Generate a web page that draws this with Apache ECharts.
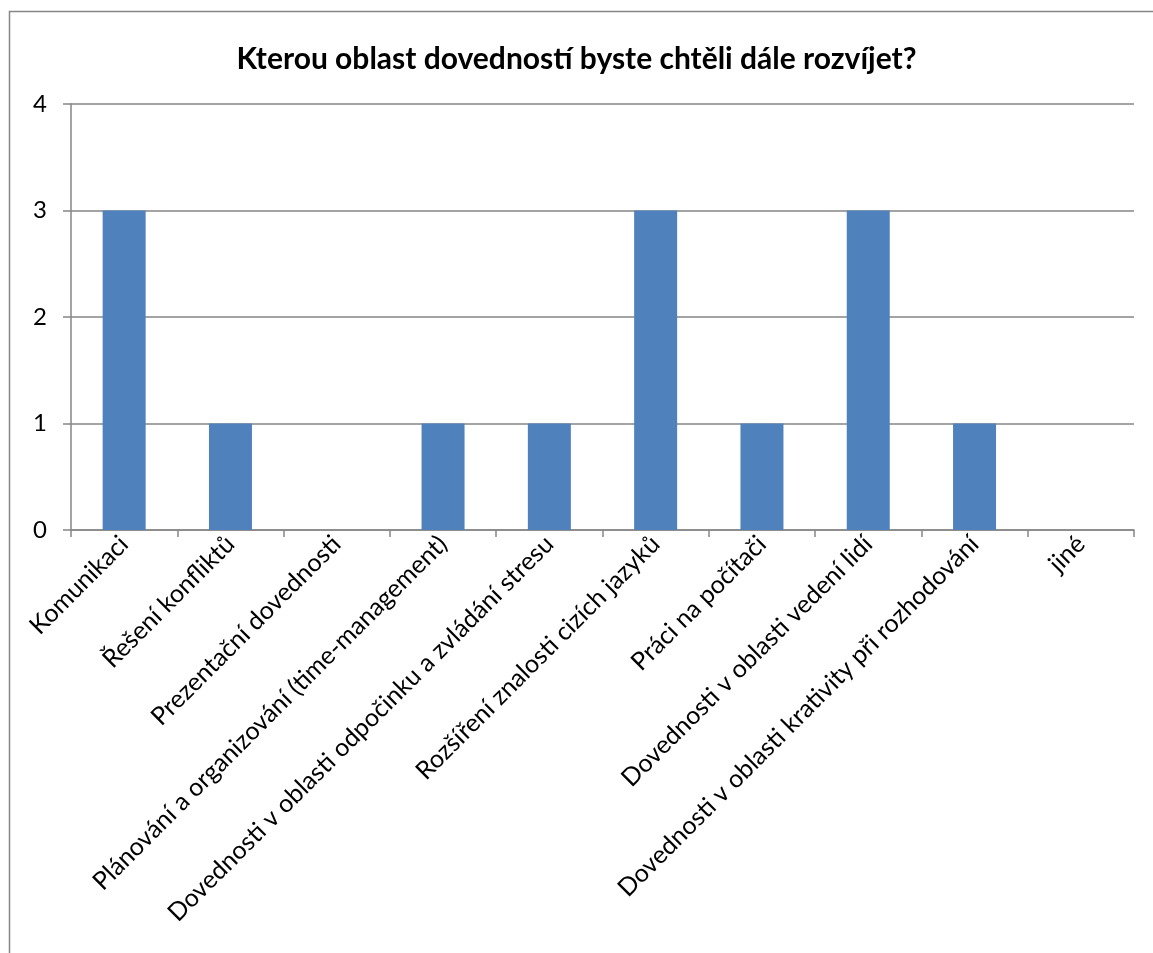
<!DOCTYPE html>
<html><head><meta charset="utf-8">
<script src="https://cdn.jsdelivr.net/npm/echarts@6/dist/echarts.min.js"></script>
<style>html,body{margin:0;padding:0;background:#fff}#c{width:1153px;height:953px}</style>
</head><body><div id="c"></div>
<script>
const titleText = 'Kterou oblast dovedností byste chtěli dále rozvíjet?';
const categories = ['Komunikaci','Řešení konfliktů','Prezentační dovednosti','Plánování a organizování (time-management)','Dovednosti v oblasti odpočinku a zvládání stresu','Rozšíření znalosti cizích jazyků','Práci na počítači','Dovednosti v oblasti vedení lidí','Dovednosti v oblasti krativity při rozhodování','jiné'];
const values = [3,1,0,1,1,3,1,3,1,0];
const yTicks = [0,1,2,3,4];

const FONT = 'Lato';
const chart = echarts.init(document.getElementById('c'));
chart.setOption({
  animation:false,
  backgroundColor:'#fff',
  title:{text:titleText,left:'center',top:39,textStyle:{fontFamily:FONT,fontWeight:'bold',fontSize:30,color:'#000'}},
  graphic:[{type:'rect',shape:{x:9.5,y:11.5,width:1160,height:960},style:{fill:null,stroke:'#868686',lineWidth:1.5},silent:true}],
  grid:{left:71,right:19,top:104,bottom:423,containLabel:false},
  xAxis:{type:'category',data:categories,
    axisLine:{lineStyle:{color:'#868686',width:1.5}},
    axisTick:{show:true,length:7,lineStyle:{color:'#868686',width:1.5}},
    axisLabel:{rotate:45,interval:0,fontFamily:FONT,fontSize:25,color:'#000',margin:10}},
  yAxis:{type:'value',min:yTicks[0],max:yTicks[yTicks.length-1],interval:1,
    axisLine:{show:true,lineStyle:{color:'#868686',width:1.5}},
    axisTick:{show:true,inside:false,length:8,lineStyle:{color:'#868686',width:1.5}},
    splitLine:{lineStyle:{color:'#868686',width:1.5}},
    axisLabel:{fontFamily:FONT,fontSize:24,color:'#000',margin:24}},
  series:[{type:'bar',data:values,barWidth:43,itemStyle:{color:'#4F81BD'}}]
});
</script></body></html>
